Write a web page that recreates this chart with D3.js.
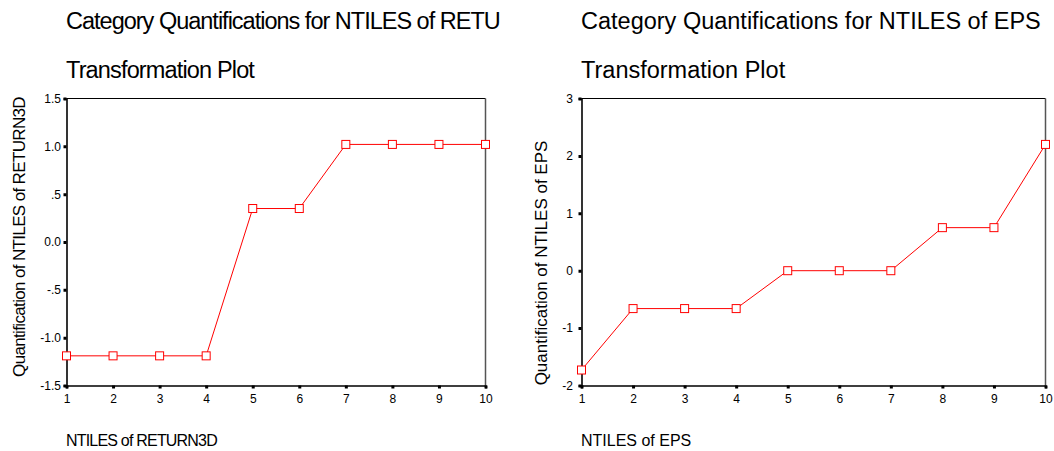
<!DOCTYPE html>
<html>
<head>
<meta charset="utf-8">
<script src="https://cdn.jsdelivr.net/npm/d3@7"></script>
<style>
  body { margin: 0; background: #fff; }
  svg { display: block; font-family: "Liberation Sans", Arial, sans-serif; }
</style>
</head>
<body>
<svg width="1054" height="451"></svg>
<script>
// categories (NTILES 1..10)
const categories = [1, 2, 3, 4, 5, 6, 7, 8, 9, 10];
// quantifications
const returnValues = [-1.19, -1.19, -1.19, -1.19, 0.35, 0.35, 1.02, 1.02, 1.02, 1.02];
const epsValues = [-1.73, -0.66, -0.66, -0.66, 0, 0, 0, 0.75, 0.75, 2.2];
// tick labels
const returnTicks = [-1.5, -1.0, -0.5, 0.0, 0.5, 1.0, 1.5];
const returnTickLabels = ["-1.5", "-1.0", "-.5", "0.0", ".5", "1.0", "1.5"];
const epsTicks = [-2, -1, 0, 1, 2, 3];
const epsTickLabels = ["-2", "-1", "0", "1", "2", "3"];

const svg = d3.select("svg");

// one panel per variable
const panels = [
  {
    title: "Category Quantifications for NTILES of RETURN3D",
    subtitle: "Transformation Plot",
    yLabel: "Quantification of NTILES of RETURN3D",
    xLabel: "NTILES of RETURN3D",
    values: returnValues,
    ticks: returnTicks,
    tickLabels: returnTickLabels,
    left: 66.5, right: 485.5, clip: 500,
    tickPad: 2.5, yLabX: 25, yLabMid: 237, yLabSpacing: -0.65, xLabSpacing: -0.8,
    titleSpacing: -1.0, subSpacing: -0.85
  },
  {
    title: "Category Quantifications for NTILES of EPS",
    subtitle: "Transformation Plot",
    yLabel: "Quantification of NTILES of EPS",
    xLabel: "NTILES of EPS",
    values: epsValues,
    ticks: epsTicks,
    tickLabels: epsTickLabels,
    left: 581.5, right: 1045.5, clip: 1054,
    tickPad: 5.5, yLabX: 547, yLabMid: 263, yLabSpacing: 0, xLabSpacing: 0,
    titleSpacing: 0, subSpacing: 0
  }
];

const plotTop = 98.5, plotBottom = 385.5;

panels.forEach((p, k) => {
  const g = svg.append("g");

  // clip the panel so the long title is cut like in the original
  const clipId = "clip" + k;
  svg.append("clipPath").attr("id", clipId)
    .append("rect")
    .attr("x", p.left - 66).attr("y", 0)
    .attr("width", p.clip - (p.left - 66)).attr("height", 451);
  g.attr("clip-path", `url(#${clipId})`);

  const x = d3.scaleLinear().domain([1, 10]).range([p.left, p.right]);
  const y = d3.scaleLinear()
    .domain(d3.extent(p.ticks))
    .range([plotBottom, plotTop]);

  // titles
  g.append("text")
    .attr("x", p.left - 0.5).attr("y", 29)
    .style("font-size", "23.5px")
    .style("letter-spacing", p.titleSpacing + "px")
    .text(p.title);
  g.append("text")
    .attr("x", p.left - 0.5).attr("y", 78)
    .style("font-size", "23.5px")
    .style("letter-spacing", p.subSpacing + "px")
    .text(p.subtitle);

  // frame (top and right)
  g.append("line")
    .attr("x1", p.left).attr("x2", p.right)
    .attr("y1", plotTop).attr("y2", plotTop)
    .attr("stroke", "#000").attr("stroke-width", 1.2);
  g.append("line")
    .attr("x1", p.right).attr("x2", p.right)
    .attr("y1", plotTop).attr("y2", plotBottom)
    .attr("stroke", "#555").attr("stroke-width", 1.5);

  // axes
  const yAxis = d3.axisLeft(y)
    .tickValues(p.ticks)
    .tickFormat((d, i) => p.tickLabels[i])
    .tickSize(3)
    .tickPadding(p.tickPad);
  const xAxis = d3.axisBottom(x)
    .tickValues(categories)
    .tickFormat(d3.format("d"))
    .tickSize(3)
    .tickPadding(6);

  const ya = g.append("g")
    .attr("transform", `translate(${p.left},0)`)
    .call(yAxis);
  const xa = g.append("g")
    .attr("transform", `translate(0,${plotBottom})`)
    .call(xAxis);

  [ya, xa].forEach(a => {
    a.select(".domain").attr("stroke", "#000").attr("stroke-width", 1.6);
    a.selectAll(".tick line").attr("stroke", "#000").attr("stroke-width", 3);
    a.selectAll(".tick text")
      .attr("fill", "#000")
      .style("font-size", "12px")
      .style("font-family", "'Liberation Sans', Arial, sans-serif");
  });

  // axis titles
  g.append("text")
    .attr("transform", `translate(${p.yLabX},${p.yLabMid}) rotate(-90)`)
    .attr("text-anchor", "middle")
    .style("font-size", "17px")
    .style("letter-spacing", p.yLabSpacing + "px")
    .text(p.yLabel);
  g.append("text")
    .attr("x", p.left - 0.5).attr("y", 446)
    .style("font-size", "16px")
    .style("letter-spacing", p.xLabSpacing + "px")
    .text(p.xLabel);

  // transformation line
  const line = d3.line()
    .x((d, i) => x(categories[i]))
    .y(d => y(d));
  g.append("path")
    .datum(p.values)
    .attr("fill", "none")
    .attr("stroke", "#ff0000")
    .attr("stroke-width", 1)
    .attr("d", line);

  // square markers
  g.selectAll("rect.marker")
    .data(p.values)
    .join("rect")
    .attr("class", "marker")
    .attr("x", (d, i) => x(categories[i]) - 4)
    .attr("y", d => y(d) - 4)
    .attr("width", 8).attr("height", 8)
    .attr("fill", "#fff")
    .attr("stroke", "#ff0000")
    .attr("stroke-width", 1);
});
</script>
</body>
</html>
